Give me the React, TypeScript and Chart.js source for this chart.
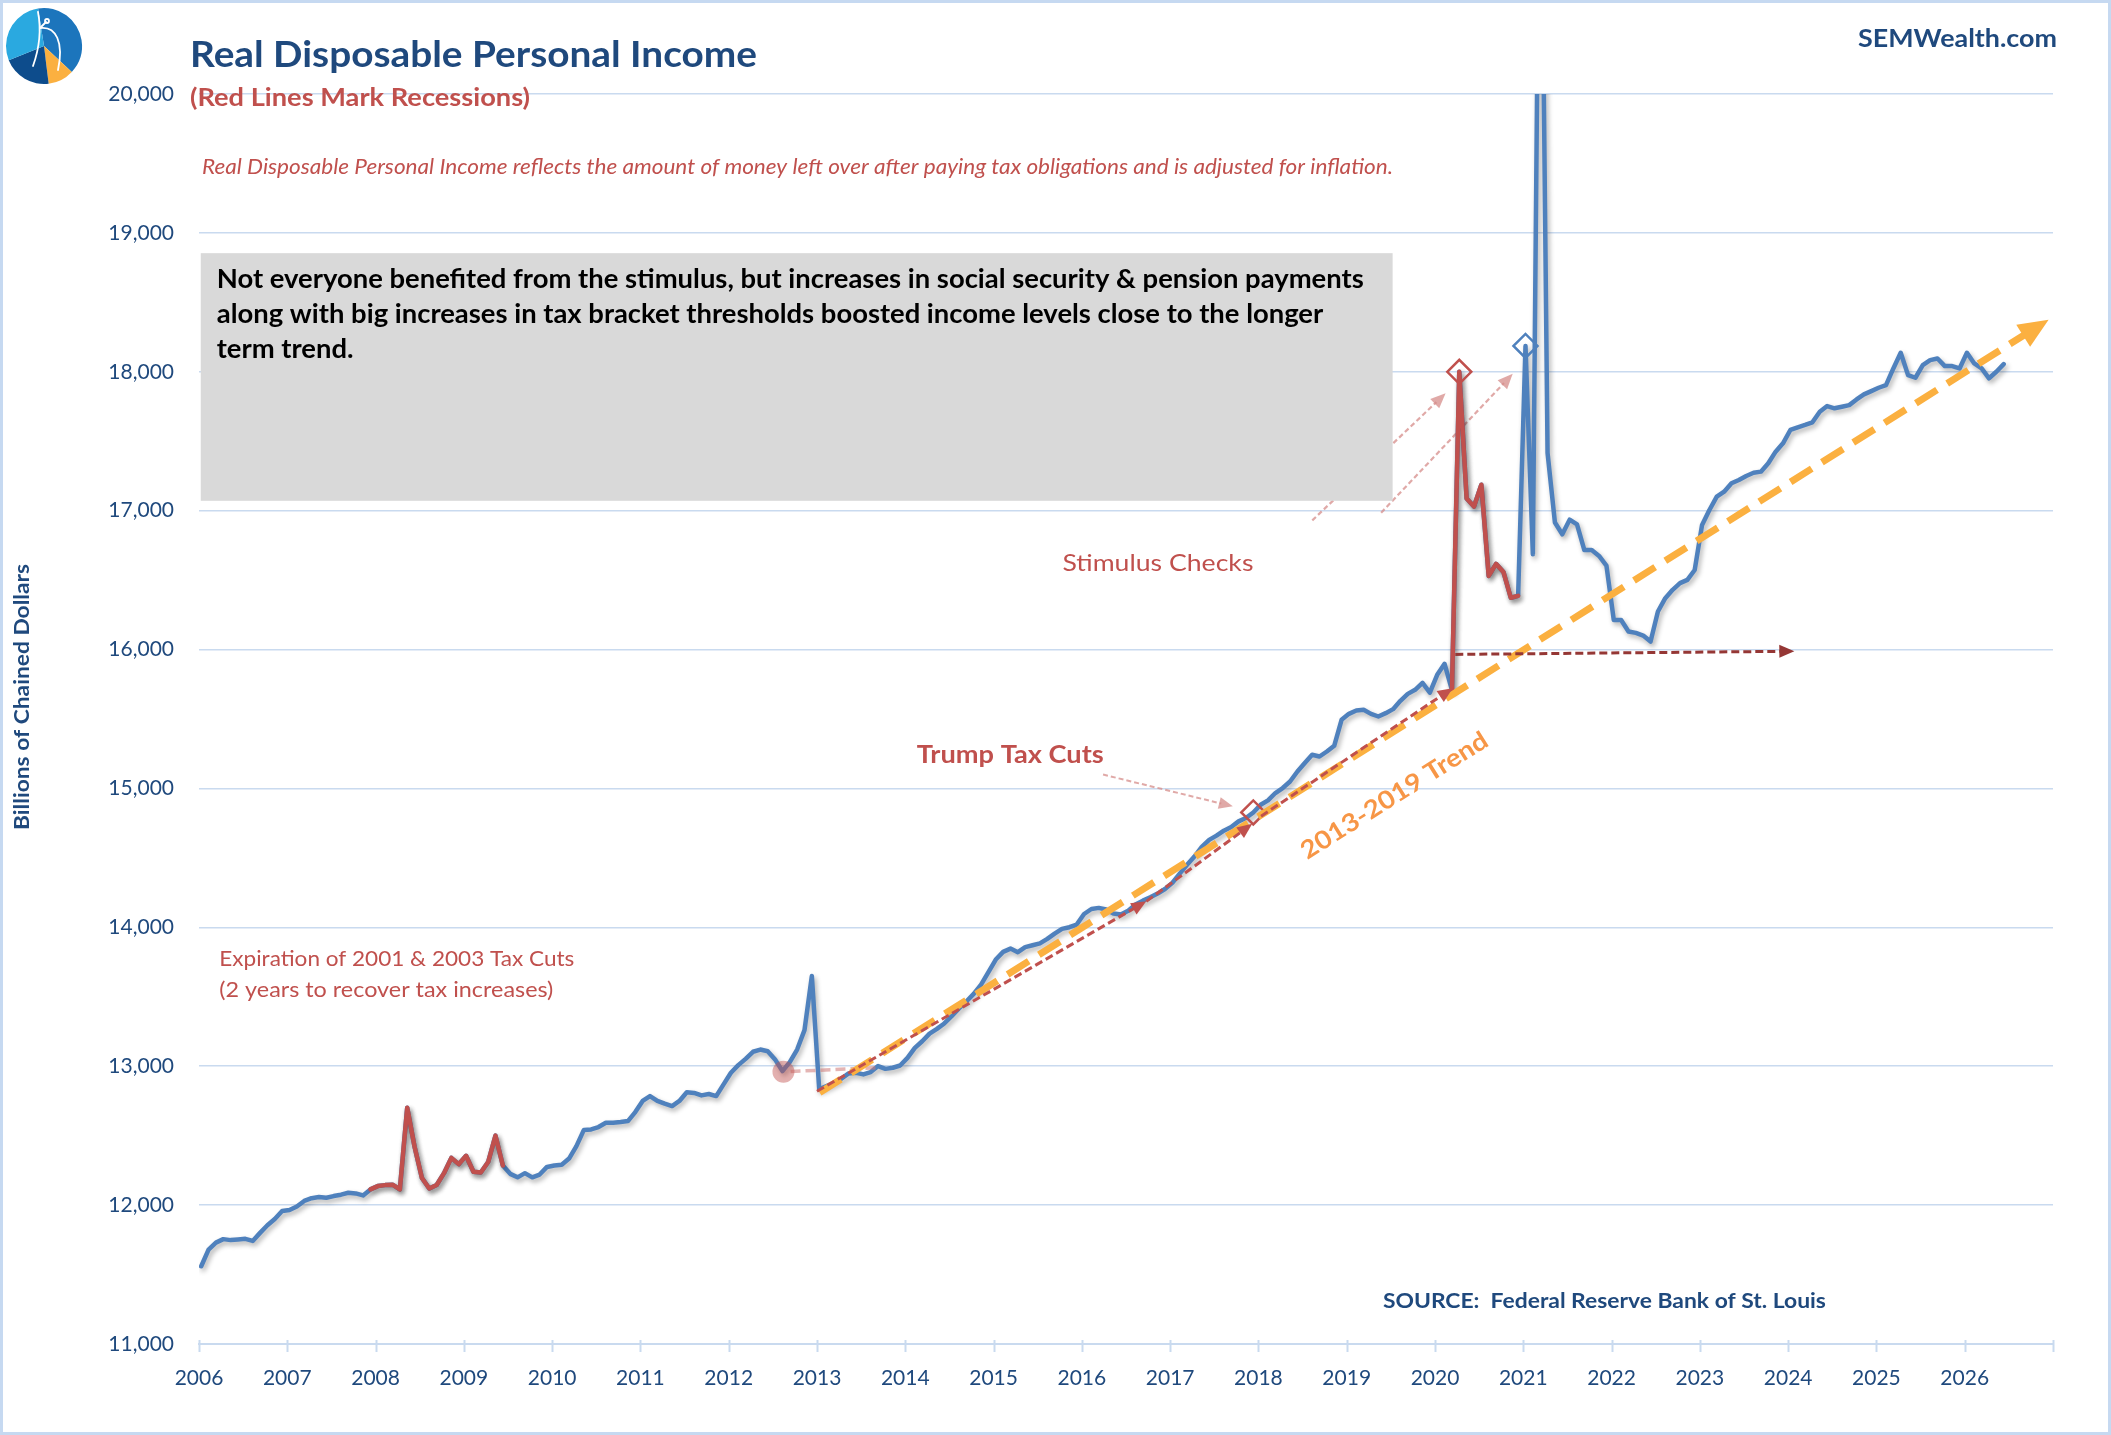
import React, { useEffect, useRef } from "react";
import { Chart, registerables } from "chart.js";

Chart.register(...registerables);

// ---------------- data (billions of chained dollars, monthly) ----------------
const FIRST_YEAR = 2006;
const income2006 = [11560, 11680, 11730, 11755, 11748, 11752, 11757, 11742, 11800, 11855, 11900, 11957];
const income2007 = [11965, 11990, 12030, 12050, 12058, 12053, 12065, 12075, 12089, 12084, 12070, 12113];
const income2008 = [12137, 12144, 12147, 12113, 12701, 12420, 12195, 12120, 12145, 12230, 12340, 12295];
const income2009 = [12355, 12240, 12235, 12310, 12500, 12285, 12225, 12200, 12230, 12200, 12220, 12275];
const income2010 = [12285, 12290, 12335, 12425, 12540, 12545, 12562, 12593, 12593, 12598, 12605, 12670];
const income2011 = [12750, 12785, 12750, 12730, 12713, 12750, 12813, 12808, 12790, 12800, 12785, 12869];
const income2012 = [12953, 13008, 13053, 13104, 13120, 13108, 13049, 12965, 13030, 13120, 13260, 13650];
const income2013 = [12833, 12857, 12881, 12910, 12948, 12953, 12941, 12958, 13001, 12981, 12989, 13005];
const income2014 = [13060, 13132, 13180, 13235, 13269, 13308, 13360, 13416, 13466, 13521, 13588, 13677];
const income2015 = [13768, 13823, 13847, 13821, 13857, 13871, 13885, 13917, 13955, 13989, 14001, 14020];
const income2016 = [14096, 14132, 14140, 14128, 14099, 14092, 14120, 14164, 14192, 14216, 14243, 14276];
const income2017 = [14320, 14387, 14451, 14510, 14580, 14630, 14660, 14696, 14722, 14763, 14787, 14827];
const income2018 = [14883, 14914, 14967, 15003, 15050, 15122, 15183, 15243, 15230, 15266, 15307, 15494];
const income2019 = [15537, 15561, 15566, 15537, 15518, 15542, 15571, 15631, 15681, 15710, 15760, 15690];
const income2020 = [15818, 15897, 15710, 18000, 17087, 17030, 17187, 16530, 16617, 16559, 16373, 16387];
const income2021 = [18186, 16687, 22500, 17415, 16915, 16830, 16935, 16901, 16716, 16716, 16674, 16605];
const income2022 = [16213, 16213, 16130, 16120, 16101, 16058, 16274, 16370, 16430, 16478, 16502, 16573];
const income2023 = [16897, 17005, 17101, 17137, 17197, 17221, 17250, 17273, 17281, 17341, 17425, 17485];
const income2024 = [17581, 17600, 17617, 17636, 17712, 17753, 17737, 17748, 17760, 17801, 17837, 17861];
const income2025 = [17885, 17904, 18024, 18137, 17976, 17957, 18048, 18084, 18096, 18041, 18041, 18024];
const income2026 = [18137, 18060, 18024, 17953, 18000, 18055];

const incomeYears = [
  income2006, income2007, income2008, income2009, income2010, income2011, income2012,
  income2013, income2014, income2015, income2016, income2017, income2018, income2019,
  income2020, income2021, income2022, income2023, income2024, income2025, income2026,
];

// recession months drawn in red (inclusive)
const RECESSIONS = [
  ["2007-12", "2009-06"],
  ["2020-03", "2020-12"],
];

// months marked with hollow diamonds
const MARKED_MONTHS = [
  { month: "2017-12", color: "#C0504D" },
  { month: "2020-04", color: "#C0504D" },
  { month: "2021-01", color: "#4F81BD" },
];

// axes
const X_MIN = 2006;
const X_MAX = 2027;
const Y_MIN = 11000;
const Y_MAX = 20000;
const Y_STEP = 1000;

// annotation anchors (data coordinates: decimal year, billions)
const TREND_LINE = [{ x: 2013.03, y: 12810 }, { x: 2026.95, y: 18375 }];
const TAX_ARROWS = [
  [{ x: 2013.0, y: 12820 }, { x: 2016.73, y: 14187 }],
  [{ x: 2016.73, y: 14187 }, { x: 2017.93, y: 14745 }],
  [{ x: 2018.03, y: 14800 }, { x: 2020.2, y: 15722 }],
];
const FLAT_ARROW = [{ x: 2020.23, y: 15965 }, { x: 2024.07, y: 15988 }];
const STIMULUS_ARROWS = [
  [{ x: 2018.61, y: 16930 }, { x: 2020.12, y: 17845 }],
  [{ x: 2019.39, y: 16985 }, { x: 2020.88, y: 17985 }],
];
const TAX_POINTER = [{ x: 2016.24, y: 15100 }, { x: 2017.71, y: 14871 }];
const RECOVERY_CIRCLE = { x: 2012.62, y: 12960 };
const RECOVERY_LINE = [{ x: 2012.7, y: 12962 }, { x: 2013.7, y: 12990 }];
const NOTE_BOX = { x0: 2006.02, y0: 18854, x1: 2019.52, y1: 17071 };

const TITLE = "Real Disposable Personal Income";
const SUBTITLE = "(Red Lines Mark Recessions)";
const NOTE = "Real Disposable Personal Income reflects the amount of money left over after paying tax obligations and is adjusted for inflation.";
const BRAND = "SEMWealth.com";
const BOX_LINES = [
  "Not everyone benefited from the stimulus, but increases in social security & pension payments",
  "along with big increases in tax bracket thresholds boosted income levels close to the longer",
  "term trend.",
];
const STIMULUS_TEXT = "Stimulus Checks";
const TAX_CUT_TEXT = "Trump Tax Cuts";
const TREND_TEXT = "2013-2019 Trend";
const EXPIRATION_LINES = ["Expiration of 2001 & 2003 Tax Cuts", "(2 years to recover tax increases)"];
const SOURCE_TEXT = "SOURCE:  Federal Reserve Bank of St. Louis";
const Y_TITLE = "Billions of Chained Dollars";

// ---------------- styles ----------------
const BLUE = "#4F81BD";
const RED = "#C0504D";
const DARK_RED = "#953735";
const PINK = "rgba(214,140,138,0.75)";
const ORANGE = "#FBB040";
const ORANGE_TEXT = "#F79646";
const NAVY = "#1F497D";
const GRID = "#C9DAEF";
const FONT = 'Lato, "Open Sans", sans-serif';
const POINT_IN_MONTH = 0.3;

// ---------------- derived series ----------------
type MonthPoint = { key: string; x: number; y: number };
const months: MonthPoint[] = [];
incomeYears.forEach((vals, yi) => {
  vals.forEach((v, mi) => {
    const yr = FIRST_YEAR + yi;
    months.push({
      key: `${yr}-${String(mi + 1).padStart(2, "0")}`,
      x: yr + (mi + POINT_IN_MONTH) / 12,
      y: v,
    });
  });
});
const inRecession = (key: string) => RECESSIONS.some(([a, b]) => key >= a && key <= b);
const blueData = months.map((p) => ({ x: p.x, y: p.y }));
const redData = months.map((p) => ({ x: p.x, y: inRecession(p.key) ? p.y : null }));
const markerData = MARKED_MONTHS.map((m) => {
  const p = months.find((q) => q.key === m.month)!;
  return { x: p.x, y: p.y };
});

// ---------------- drawing helpers ----------------
function drawText(ctx: any, text: string, x: number, y: number, o: any) {
  ctx.save();
  ctx.font = o.font;
  ctx.fillStyle = o.color;
  ctx.textBaseline = "middle";
  ctx.textAlign = "left";
  const natural = ctx.measureText(text).width;
  const sx = o.scale ?? (o.width ? o.width / natural : 1);
  const w = natural * sx;
  ctx.translate(x, y);
  if (o.angle) ctx.rotate(o.angle);
  const align = o.align ?? "left";
  ctx.translate(align === "left" ? 0 : align === "center" ? -w / 2 : -w, 0);
  ctx.scale(sx, 1);
  ctx.fillText(text, 0, 0);
  ctx.restore();
}

function drawArrow(ctx: any, x1: number, y1: number, x2: number, y2: number, o: any) {
  const ang = Math.atan2(y2 - y1, x2 - x1);
  const c = Math.cos(ang);
  const s = Math.sin(ang);
  const hl = o.head ? o.headLen : 0;
  ctx.save();
  ctx.strokeStyle = o.color;
  ctx.lineWidth = o.width;
  ctx.setLineDash(o.dash || []);
  ctx.lineCap = "butt";
  ctx.beginPath();
  ctx.moveTo(x1, y1);
  ctx.lineTo(x2 - c * hl * 0.85, y2 - s * hl * 0.85);
  ctx.stroke();
  if (o.head) {
    ctx.setLineDash([]);
    ctx.fillStyle = o.color;
    const bx = x2 - c * o.headLen;
    const by = y2 - s * o.headLen;
    const hw = o.headWidth / 2;
    ctx.beginPath();
    ctx.moveTo(x2, y2);
    ctx.lineTo(bx - s * hw, by + c * hw);
    ctx.lineTo(bx + s * hw, by - c * hw);
    ctx.closePath();
    ctx.fill();
  }
  ctx.restore();
}

function drawLogo(ctx: any, cx: number, cy: number, r: number) {
  const seg = (a0: number, a1: number, color: string) => {
    ctx.beginPath();
    ctx.moveTo(cx, cy);
    ctx.arc(cx, cy, r, (a0 * Math.PI) / 180, (a1 * Math.PI) / 180);
    ctx.closePath();
    ctx.fillStyle = color;
    ctx.fill();
  };
  ctx.save();
  seg(-99, 43, "#1C75BC");
  seg(43, 83, "#FBB040");
  seg(83, 158, "#0D4C8C");
  seg(158, 261, "#2AA9E0");
  ctx.strokeStyle = "#FFFFFF";
  ctx.lineWidth = 1.8;
  ctx.lineCap = "round";
  ctx.beginPath();
  ctx.moveTo(cx - 6, cy - 34);
  ctx.quadraticCurveTo(cx - 1, cy - 8, cx - 11, cy + 20);
  ctx.stroke();
  ctx.beginPath();
  ctx.moveTo(cx - 4, cy - 18);
  ctx.bezierCurveTo(cx + 12, cy - 20, cx + 20, cy - 4, cx + 14, cy + 24);
  ctx.stroke();
  ctx.beginPath();
  ctx.moveTo(cx - 4, cy - 18);
  ctx.lineTo(cx + 2, cy - 24);
  ctx.stroke();
  ctx.beginPath();
  ctx.arc(cx + 3, cy - 25, 2, 0, Math.PI * 2);
  ctx.stroke();
  ctx.restore();
}

const semPlugin = {
  id: "semAnnotations",
  beforeDatasetsDraw(chart: any) {
    const { ctx, scales } = chart;
    const X = (v: number) => scales.x.getPixelForValue(v);
    const Y = (v: number) => scales.y.getPixelForValue(v);

    // pink stimulus pointers (partly hidden behind the note box)
    STIMULUS_ARROWS.forEach(([a, b]) => {
      drawArrow(ctx, X(a.x), Y(a.y), X(b.x), Y(b.y), { color: PINK, width: 2.2, dash: [5, 3], head: true, headLen: 15, headWidth: 13 });
    });

    const bx0 = X(NOTE_BOX.x0);
    const by0 = Y(NOTE_BOX.y0);
    const bx1 = X(NOTE_BOX.x1);
    const by1 = Y(NOTE_BOX.y1);
    ctx.save();
    ctx.fillStyle = "#D9D9D9";
    ctx.fillRect(bx0, by0, bx1 - bx0, by1 - by0);
    ctx.restore();
    const boxFont = `bold 26px ${FONT}`;
    ctx.save();
    ctx.font = boxFont;
    const sx = 1147 / ctx.measureText(BOX_LINES[0]).width;
    ctx.restore();
    BOX_LINES.forEach((line, i) => {
      drawText(ctx, line, bx0 + 16, by0 + 26 + i * 35, { font: boxFont, color: "#000000", scale: sx });
    });
  },
  beforeDatasetDraw(chart: any, args: any) {
    if (args.index > 1) return;
    const ctx = chart.ctx;
    ctx.save();
    ctx.shadowColor = "rgba(0,0,0,0.30)";
    ctx.shadowBlur = 5;
    ctx.shadowOffsetX = 2;
    ctx.shadowOffsetY = 3;
  },
  afterDatasetDraw(chart: any, args: any) {
    if (args.index > 1) return;
    chart.ctx.restore();
  },
  afterDatasetsDraw(chart: any) {
    const { ctx, scales } = chart;
    const X = (v: number) => scales.x.getPixelForValue(v);
    const Y = (v: number) => scales.y.getPixelForValue(v);
    const P = (p: any) => [X(p.x), Y(p.y)];

    // recovery circle + connector
    const [rx1, ry1] = P(RECOVERY_LINE[0]);
    const [rx2, ry2] = P(RECOVERY_LINE[1]);
    drawArrow(ctx, rx1, ry1, rx2, ry2, { color: "rgba(205,120,118,0.55)", width: 3.5, dash: [10, 5], head: false });
    const [cx, cy] = P(RECOVERY_CIRCLE);
    ctx.save();
    ctx.fillStyle = "rgba(192,80,77,0.45)";
    ctx.beginPath();
    ctx.arc(cx, cy, 11, 0, Math.PI * 2);
    ctx.fill();
    ctx.restore();

    // orange trend
    const [tx1, ty1] = P(TREND_LINE[0]);
    const [tx2, ty2] = P(TREND_LINE[1]);
    drawArrow(ctx, tx1, ty1, tx2, ty2, { color: ORANGE, width: 7, dash: [25, 12], head: true, headLen: 30, headWidth: 26 });

    // red dashed tax-cut arrows
    TAX_ARROWS.forEach(([a, b]) => {
      const [x1, y1] = P(a);
      const [x2, y2] = P(b);
      drawArrow(ctx, x1, y1, x2, y2, { color: RED, width: 3, dash: [8, 4], head: true, headLen: 15, headWidth: 13 });
    });

    // flat post-stimulus arrow
    const [fx1, fy1] = P(FLAT_ARROW[0]);
    const [fx2, fy2] = P(FLAT_ARROW[1]);
    drawArrow(ctx, fx1, fy1, fx2, fy2, { color: DARK_RED, width: 3, dash: [8, 4], head: true, headLen: 15, headWidth: 13 });

    // pink tax-cut pointer
    const [px1, py1] = P(TAX_POINTER[0]);
    const [px2, py2] = P(TAX_POINTER[1]);
    drawArrow(ctx, px1, py1, px2, py2, { color: PINK, width: 2, dash: [5, 3], head: true, headLen: 14, headWidth: 12 });

    // in-chart labels
    drawText(ctx, STIMULUS_TEXT, X(2015.78), Y(16624), { font: `24px ${FONT}`, color: RED, width: 191 });
    drawText(ctx, TAX_CUT_TEXT, X(2014.13), Y(15242), { font: `bold 25px ${FONT}`, color: RED, width: 187 });
    const angle = Math.atan2(ty2 - ty1, tx2 - tx1);
    drawText(ctx, TREND_TEXT, X(2019.54), Y(14948), { font: `bold 25px ${FONT}`, color: ORANGE_TEXT, width: 216, align: "center", angle });
    drawText(ctx, EXPIRATION_LINES[0], X(2006.23), Y(13767), { font: `21px ${FONT}`, color: RED, width: 355 });
    drawText(ctx, EXPIRATION_LINES[1], X(2006.23), Y(13544), { font: `21px ${FONT}`, color: RED, width: 334 });
    drawText(ctx, SOURCE_TEXT, X(2019.41), Y(11308), { font: `bold 21px ${FONT}`, color: NAVY, width: 443 });
  },
  afterDraw(chart: any) {
    const { ctx, scales, chartArea, width, height } = chart;
    // x tick marks crossing the axis
    ctx.save();
    ctx.strokeStyle = GRID;
    ctx.lineWidth = 2;
    for (let yr = X_MIN; yr <= X_MAX; yr++) {
      const px = Math.round(scales.x.getPixelForValue(yr)) + 0.5;
      ctx.beginPath();
      ctx.moveTo(px, chartArea.bottom - 4);
      ctx.lineTo(px, chartArea.bottom + 8);
      ctx.stroke();
    }
    ctx.restore();

    // titles
    drawText(ctx, TITLE, 190, 55, { font: `bold 36px ${FONT}`, color: NAVY, width: 567 });
    drawText(ctx, SUBTITLE, 190, 98, { font: `bold 25px ${FONT}`, color: RED, width: 340 });
    drawText(ctx, NOTE, 202, 167, { font: `italic 21px ${FONT}`, color: RED, width: 1191 });
    drawText(ctx, BRAND, 2057, 39, { font: `bold 25px ${FONT}`, color: NAVY, width: 199, align: "right" });
    drawText(ctx, Y_TITLE, 23, 697, { font: `bold 20px ${FONT}`, color: NAVY, width: 266, align: "center", angle: -Math.PI / 2 });

    drawLogo(ctx, 44, 46, 38);

    // frame
    ctx.save();
    ctx.strokeStyle = "#C6D9F1";
    ctx.lineWidth = 3;
    ctx.strokeRect(1.5, 1.5, width - 3, height - 3);
    ctx.restore();
  },
};

export default function App() {
  const canvasRef = useRef<HTMLCanvasElement>(null);

  useEffect(() => {
    document.body.style.margin = "0";
    const canvas = canvasRef.current;
    if (!canvas) return;
    const chart = new Chart(canvas, {
      type: "line",
      data: {
        datasets: [
          {
            label: "Real Disposable Personal Income",
            data: blueData,
            borderColor: BLUE,
            borderWidth: 4.5,
            pointRadius: 0,
            tension: 0,
            borderJoinStyle: "round",
            borderCapStyle: "round",
            clip: 0,
            order: 3,
          },
          {
            label: "Recessions",
            data: redData,
            borderColor: RED,
            borderWidth: 4.5,
            pointRadius: 0,
            tension: 0,
            spanGaps: false,
            borderJoinStyle: "round",
            borderCapStyle: "round",
            clip: 0,
            order: 2,
          },
          {
            label: "Markers",
            data: markerData,
            showLine: false,
            pointStyle: "rectRot",
            pointRadius: 12,
            pointBorderWidth: 2.5,
            pointBorderColor: MARKED_MONTHS.map((m) => m.color),
            pointBackgroundColor: "rgba(0,0,0,0)",
            order: 1,
          },
        ],
      } as any,
      options: {
        animation: false,
        responsive: true,
        maintainAspectRatio: false,
        parsing: true,
        layout: { padding: { top: 94, right: 58, left: 0, bottom: 0 } },
        plugins: {
          legend: { display: false },
          tooltip: { enabled: false },
          title: { display: false },
        },
        scales: {
          x: {
            type: "linear",
            min: X_MIN,
            max: X_MAX,
            grid: { display: false, drawTicks: false },
            border: { display: true, color: GRID, width: 2 },
            ticks: {
              stepSize: 1,
              autoSkip: false,
              maxRotation: 0,
              padding: 22,
              color: NAVY,
              font: { family: FONT, size: 21 },
              callback: (v: any) => (Number(v) >= X_MAX ? "" : String(v)),
            },
            afterFit: (s: any) => {
              s.height = 91;
            },
          },
          y: {
            min: Y_MIN,
            max: Y_MAX,
            grid: { color: GRID, lineWidth: 1.5, drawTicks: false },
            border: { display: false },
            ticks: {
              stepSize: Y_STEP,
              padding: 25,
              color: NAVY,
              font: { family: FONT, size: 21 },
              callback: (v: any) => Number(v).toLocaleString("en-US"),
            },
            afterFit: (s: any) => {
              s.width = 199;
            },
          },
        },
      } as any,
      plugins: [semPlugin as any],
    });
    return () => chart.destroy();
  }, []);

  return (
    <div style={{ width: 2111, height: 1435, position: "relative", background: "#FFFFFF" }}>
      <canvas ref={canvasRef} />
    </div>
  );
}
